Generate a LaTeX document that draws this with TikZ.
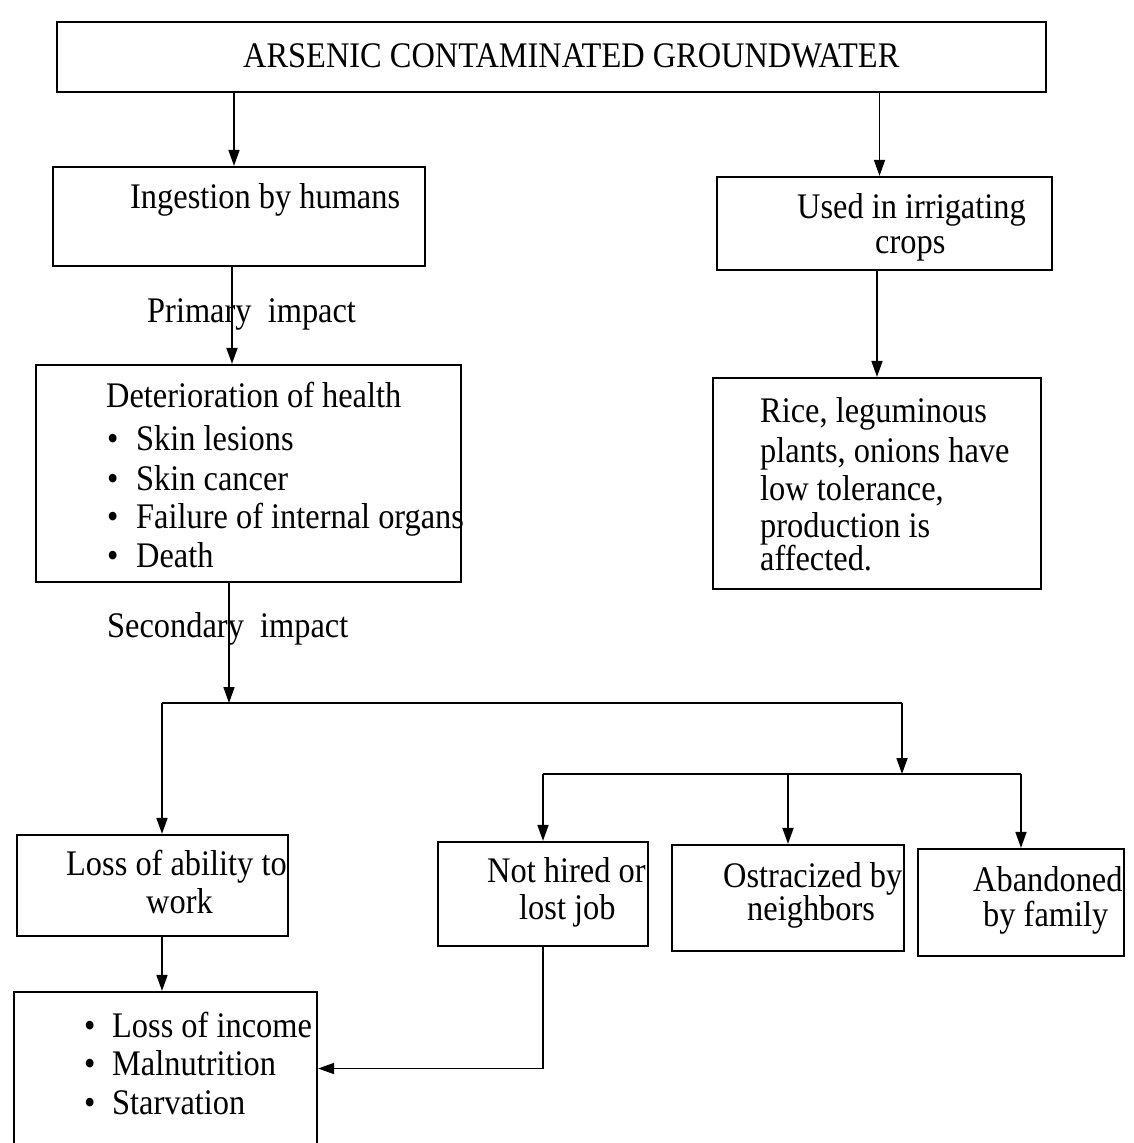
\documentclass[tikz,border=0pt]{standalone}
\usepackage{fontspec}
\setmainfont[FakeStretch=0.9]{Liberation Serif}
\usetikzlibrary{arrows.meta,fit,calc}
\newcommand\fs{\fontsize{36}{42}\selectfont}
\newcommand\bul{\textbullet}
\begin{document}
\begin{tikzpicture}[x=1pt,y=-1pt,
  box/.style={draw,line width=2.2pt,inner sep=0pt},
  t/.style={anchor=base west,inner sep=0pt,font=\fs,text height=24pt,text depth=6pt},
  arr/.style={line width=1.7pt,-{Triangle[length=16pt,width=11pt]}},
  ln/.style={line width=1.7pt}]
\useasboundingbox (0,0) rectangle (1133,1143);
% boxes
\node[box,fit={(57,22) (1046,92)}] (top) {};
\node[box,fit={(53,167) (425,266)}] (ing) {};
\node[box,fit={(717,177) (1052,270)}] (used) {};
\node[box,fit={(36,365) (461,582)}] (det) {};
\node[box,fit={(713,378) (1041,589)}] (rice) {};
\node[box,fit={(17,835) (288,936)}] (loa) {};
\node[box,fit={(438,842) (648,946)}] (nh) {};
\node[box,fit={(672,845) (904,951)}] (ost) {};
\node[box,fit={(918,849) (1124,956)}] (ab) {};
\node[box,fit={(14,992) (317,1145)}] (bot) {};
% texts
\node[t] (tTitle) at (243,67) {ARSENIC CONTAMINATED GROUNDWATER};
\node[t] (tIng) at (130,208) {Ingestion by humans};
\node[t] (tUsed1) at (797,218) {Used in irrigating};
\node[t] (tUsed2) at (875,253) {crops};
\node[t] (tPrim) at (147,322) {Primary\ \ impact};
\node[t] (tDet0) at (106,407) {Deterioration of health};
\node[t] (tDet1) at (107,450) {\makebox[29pt][l]{\bul}Skin lesions};
\node[t] (tDet2) at (107,490) {\makebox[29pt][l]{\bul}Skin cancer};
\node[t] (tDet3) at (107,528) {\makebox[29pt][l]{\bul}Failure of internal organs};
\node[t] (tDet4) at (107,567) {\makebox[29pt][l]{\bul}Death};
\node[t] (tRice1) at (760,422) {Rice, leguminous};
\node[t] (tRice2) at (760,462) {plants, onions have};
\node[t] (tRice3) at (760,500) {low tolerance,};
\node[t] (tRice4) at (760,537) {production is};
\node[t] (tRice5) at (760,570) {affected.};
\node[t] (tSec) at (107,637) {Secondary\ \ impact};
\node[t] (tLoa1) at (66,875) {Loss of ability to};
\node[t] (tLoa2) at (146,913) {work};
\node[t] (tNh1) at (487,882) {Not hired or};
\node[t] (tNh2) at (519,919) {lost job};
\node[t] (tOst1) at (723,887) {Ostracized by};
\node[t] (tOst2) at (747,920) {neighbors};
\node[t] (tAb1) at (973,891) {Abandoned};
\node[t] (tAb2) at (983,926) {by family};
\node[t] (tBot1) at (84,1037) {\makebox[28pt][l]{\bul}Loss of income};
\node[t] (tBot2) at (84,1075) {\makebox[28pt][l]{\bul}Malnutrition};
\node[t] (tBot3) at (84,1114) {\makebox[28pt][l]{\bul}Starvation};
% connectors
\coordinate (aI) at ([xshift=-5pt]ing.north);
\coordinate (aU) at ([xshift=-5pt]used.north);
\coordinate (aD) at ([xshift=-7pt]ing.south);
\coordinate (jL) at (162,703);
\coordinate (jM) at (229,703);
\coordinate (jR) at (902,703);
\coordinate (j2) at (902,774);
\draw[arr] (aI |- top.south) -- (aI);
\draw[arr] (aU |- top.south) -- (aU);
\draw[arr] (aD) -- (aD |- det.north);
\draw[arr] (used.south -| rice.north) -- (rice.north);
\draw[arr] (det.south -| jM) -- (jM);
\draw[ln] (jL) -- (jR);
\draw[arr] (jL) -- (jL |- loa.north);
\draw[arr] (jR) -- (j2);
\draw[ln] (nh.north |- j2) -- (ab.north |- j2);
\draw[arr] (nh.north |- j2) -- (nh.north);
\draw[arr] (ost.north |- j2) -- (ost.north);
\draw[arr] (ab.north |- j2) -- (ab.north);
\draw[arr] (loa.south -| jL) -- (bot.north -| jL);
\draw[arr] (nh.south) |- (bot.east);
\end{tikzpicture}
\end{document}
